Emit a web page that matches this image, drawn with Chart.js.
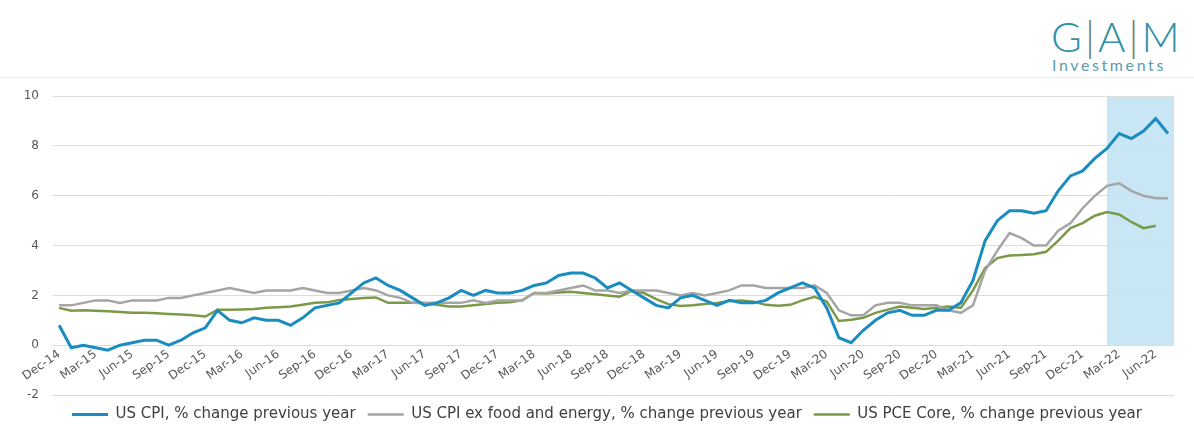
<!DOCTYPE html>
<html>
<head>
<meta charset="utf-8">
<style>
  body { margin: 0; width: 1194px; height: 428px; background: #fff; overflow: hidden; position: relative; font-family: "DejaVu Sans", sans-serif; }
  #logo-gam { position: absolute; left: 1051px; top: 15px; font-family: Lato, sans-serif; font-weight: 300; font-size: 42px; line-height: 42px; color: #2f8fa8; letter-spacing: 2px; }
  #logo-gam span { color: #6b7b80; font-weight: 300; margin: 0 1px; }
  #logo-inv { position: absolute; left: 1052px; top: 56px; font-family: Lato, sans-serif; font-size: 16px; line-height: 17px; color: #5d9aa9; letter-spacing: 2.6px; }
  #rule { position: absolute; left: 0; top: 77px; width: 1194px; height: 1px; background: #ececec; }
  #wrap { position: absolute; left: 0; top: 75px; width: 1194px; height: 357px; }
</style>
</head>
<body>
<div id="logo-gam">G<span>|</span>A<span>|</span>M</div>
<div id="logo-inv">Investments</div>
<div id="rule"></div>
<div id="wrap"><canvas id="chart"></canvas></div>

<script src="https://cdn.jsdelivr.net/npm/chart.js"></script>
<script>
  // monthly, Dec-14 .. Jul-22
  const labels = [
    'Dec-14',
    'Jan-15','Feb-15','Mar-15','Apr-15','May-15','Jun-15','Jul-15','Aug-15','Sep-15','Oct-15','Nov-15','Dec-15',
    'Jan-16','Feb-16','Mar-16','Apr-16','May-16','Jun-16','Jul-16','Aug-16','Sep-16','Oct-16','Nov-16','Dec-16',
    'Jan-17','Feb-17','Mar-17','Apr-17','May-17','Jun-17','Jul-17','Aug-17','Sep-17','Oct-17','Nov-17','Dec-17',
    'Jan-18','Feb-18','Mar-18','Apr-18','May-18','Jun-18','Jul-18','Aug-18','Sep-18','Oct-18','Nov-18','Dec-18',
    'Jan-19','Feb-19','Mar-19','Apr-19','May-19','Jun-19','Jul-19','Aug-19','Sep-19','Oct-19','Nov-19','Dec-19',
    'Jan-20','Feb-20','Mar-20','Apr-20','May-20','Jun-20','Jul-20','Aug-20','Sep-20','Oct-20','Nov-20','Dec-20',
    'Jan-21','Feb-21','Mar-21','Apr-21','May-21','Jun-21','Jul-21','Aug-21','Sep-21','Oct-21','Nov-21','Dec-21',
    'Jan-22','Feb-22','Mar-22','Apr-22','May-22','Jun-22','Jul-22'
  ];

  const cpi = [
    0.8,
    -0.1, 0.0, -0.1, -0.2, 0.0, 0.1, 0.2, 0.2, 0.0, 0.2, 0.5, 0.7,
    1.4, 1.0, 0.9, 1.1, 1.0, 1.0, 0.8, 1.1, 1.5, 1.6, 1.7, 2.1,
    2.5, 2.7, 2.4, 2.2, 1.9, 1.6, 1.7, 1.9, 2.2, 2.0, 2.2, 2.1,
    2.1, 2.2, 2.4, 2.5, 2.8, 2.9, 2.9, 2.7, 2.3, 2.5, 2.2, 1.9,
    1.6, 1.5, 1.9, 2.0, 1.8, 1.6, 1.8, 1.7, 1.7, 1.8, 2.1, 2.3,
    2.5, 2.3, 1.5, 0.3, 0.1, 0.6, 1.0, 1.3, 1.4, 1.2, 1.2, 1.4,
    1.4, 1.7, 2.6, 4.2, 5.0, 5.4, 5.4, 5.3, 5.4, 6.2, 6.8, 7.0,
    7.5, 7.9, 8.5, 8.3, 8.6, 9.1, 8.5
  ];

  const coreCpi = [
    1.6,
    1.6, 1.7, 1.8, 1.8, 1.7, 1.8, 1.8, 1.8, 1.9, 1.9, 2.0, 2.1,
    2.2, 2.3, 2.2, 2.1, 2.2, 2.2, 2.2, 2.3, 2.2, 2.1, 2.1, 2.2,
    2.3, 2.2, 2.0, 1.9, 1.7, 1.7, 1.7, 1.7, 1.7, 1.8, 1.7, 1.8,
    1.8, 1.8, 2.1, 2.1, 2.2, 2.3, 2.4, 2.2, 2.2, 2.1, 2.2, 2.2,
    2.2, 2.1, 2.0, 2.1, 2.0, 2.1, 2.2, 2.4, 2.4, 2.3, 2.3, 2.3,
    2.3, 2.4, 2.1, 1.4, 1.2, 1.2, 1.6, 1.7, 1.7, 1.6, 1.6, 1.6,
    1.4, 1.3, 1.6, 3.0, 3.8, 4.5, 4.3, 4.0, 4.0, 4.6, 4.9, 5.5,
    6.0, 6.4, 6.5, 6.2, 6.0, 5.9, 5.9
  ];

  const pceCore = [
    1.50,
    1.38, 1.40, 1.38, 1.36, 1.33, 1.30, 1.30, 1.28, 1.25, 1.23, 1.20, 1.15,
    1.42, 1.42, 1.43, 1.45, 1.50, 1.52, 1.55, 1.62, 1.70, 1.72, 1.82, 1.86,
    1.90, 1.92, 1.70, 1.70, 1.70, 1.68, 1.62, 1.55, 1.55, 1.60, 1.65, 1.70,
    1.72, 1.80, 2.10, 2.08, 2.12, 2.15, 2.10, 2.05, 2.00, 1.95, 2.18, 2.10,
    1.85, 1.65, 1.57, 1.60, 1.65, 1.70, 1.78, 1.80, 1.75, 1.62, 1.58, 1.62,
    1.80, 1.94, 1.75, 0.97, 1.02, 1.10, 1.30, 1.43, 1.55, 1.50, 1.45, 1.50,
    1.55, 1.50, 2.20, 3.10, 3.50, 3.60, 3.62, 3.65, 3.75, 4.20, 4.70, 4.90,
    5.20, 5.35, 5.25, 4.95, 4.70, 4.80, null
  ];

  const yTicks = [-2, 0, 2, 4, 6, 8, 10];
  const shadeFrom = 'Feb-22';

  // light blue band behind the latest months
  const shadePlugin = {
    id: 'shade',
    beforeDraw(chart) {
      const { ctx, chartArea, scales } = chart;
      const x0 = scales.x.getPixelForValue(labels.indexOf(shadeFrom));
      const yTop = scales.y.getPixelForValue(10);
      const yBot = scales.y.getPixelForValue(0);
      ctx.save();
      ctx.fillStyle = '#c8e6f4';
      ctx.fillRect(x0, yTop, chartArea.right - x0, yBot - yTop);
      ctx.restore();
    }
  };

  // legend in the original sits a bit right of centre
  const legendNudge = {
    id: 'legendNudge',
    afterLayout(chart) {
      chart.legend.left += 20;
      chart.legend.right += 20;
    }
  };

  new Chart(document.getElementById('chart'), {
    type: 'line',
    data: {
      labels: labels,
      datasets: [
        {
          label: 'US CPI, % change previous year',
          data: cpi,
          borderColor: '#1a8cbf',
          backgroundColor: '#1a8cbf',
          borderWidth: 3,
          order: 0
        },
        {
          label: 'US CPI ex food and energy, % change previous year',
          data: coreCpi,
          borderColor: '#a5a5a5',
          backgroundColor: '#a5a5a5',
          borderWidth: 2.5,
          order: 1
        },
        {
          label: 'US PCE Core, % change previous year',
          data: pceCore,
          borderColor: '#7b9948',
          backgroundColor: '#7b9948',
          borderWidth: 2.5,
          order: 2
        }
      ]
    },
    options: {
      responsive: true,
      maintainAspectRatio: false,
      animation: false,
      elements: {
        point: { radius: 0, hoverRadius: 0 },
        line: { tension: 0 }
      },
      layout: { padding: { top: 4, right: 20, left: 0, bottom: 0 } },
      scales: {
        x: {
          type: 'category',
          position: { y: 0 },
          offset: true,
          grid: { display: false, drawTicks: false },
          border: { display: false },
          ticks: {
            autoSkip: false,
            minRotation: 35,
            maxRotation: 35,
            padding: 2,
            color: '#595959',
            font: { family: 'DejaVu Sans', size: 12 },
            callback: function (value, index) {
              return index % 3 === 0 ? labels[index] : null;
            }
          }
        },
        y: {
          min: -2,
          max: 10,
          afterBuildTicks: function (scale) {
            scale.ticks = yTicks.map(function (v) { return { value: v }; });
          },
          afterFit: function (scale) { scale.width = 53; },
          grid: { color: '#dcdcdc', drawTicks: false, lineWidth: 1 },
          border: { display: false },
          ticks: {
            padding: 14,
            color: '#595959',
            font: { family: 'DejaVu Sans', size: 12 }
          }
        }
      },
      plugins: {
        legend: {
          position: 'bottom',
          labels: {
            usePointStyle: true,
            pointStyle: 'line',
            pointStyleWidth: 36,
            boxHeight: 15,
            padding: 12,
            color: '#404040',
            font: { family: 'DejaVu Sans', size: 15 }
          }
        },
        tooltip: { enabled: false }
      }
    },
    plugins: [shadePlugin, legendNudge]
  });
</script>
</body>
</html>
